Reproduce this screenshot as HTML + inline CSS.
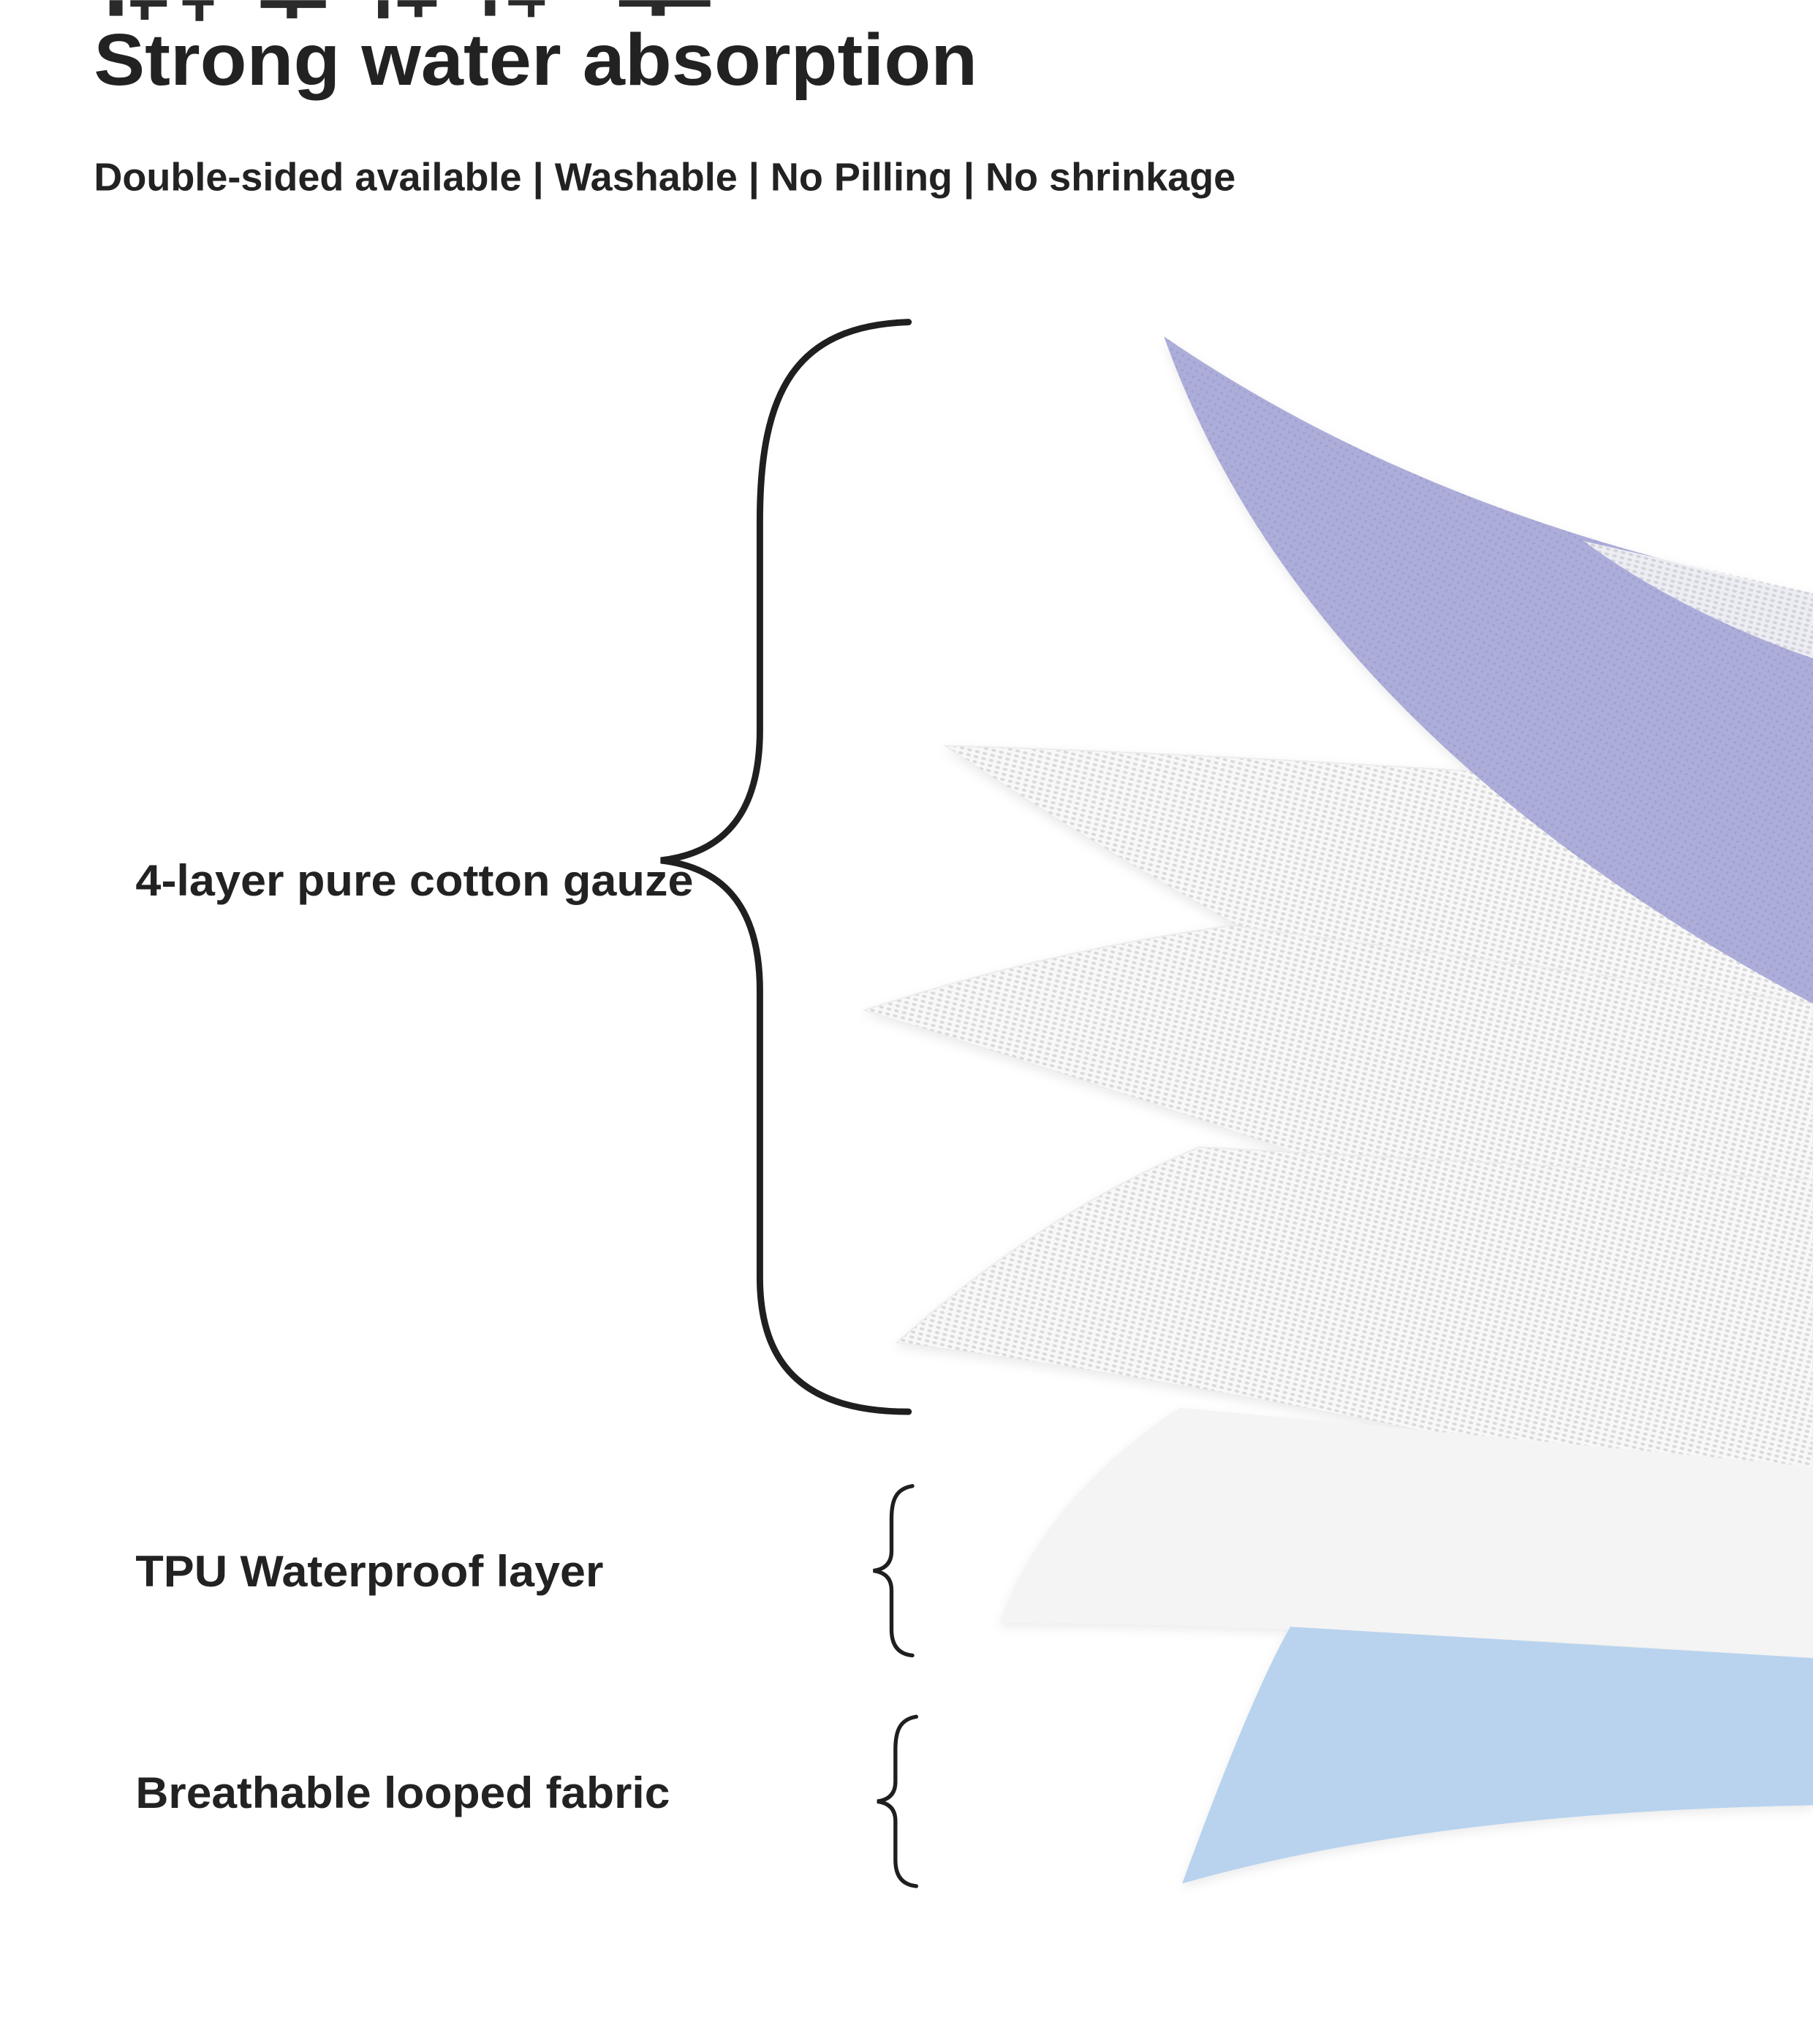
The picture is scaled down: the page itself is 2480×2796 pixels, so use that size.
<!DOCTYPE html>
<html><head><meta charset="utf-8"><style>
html,body{margin:0;padding:0;background:#fff;}
svg{display:block;}
</style></head><body>
<svg width="2480" height="2796" viewBox="0 0 1391 1568" xmlns="http://www.w3.org/2000/svg">
<defs>
<pattern id="mesh" width="6" height="4" patternUnits="userSpaceOnUse" patternTransform="rotate(14)">
<rect width="6" height="4" fill="#f8f8f8"/>
<ellipse cx="3" cy="2" rx="1.9" ry="1.1" fill="#dadada"/>
</pattern>
<pattern id="pmesh" width="5" height="5" patternUnits="userSpaceOnUse" patternTransform="rotate(30)">
<rect width="5" height="5" fill="#adadda"/>
<circle cx="2.5" cy="2.5" r="1" fill="#a0a0d0"/>
</pattern>
<filter id="sh" x="-10%" y="-10%" width="120%" height="130%">
<feDropShadow dx="0" dy="3" stdDeviation="4" flood-color="#000" flood-opacity="0.08"/>
</filter>
</defs>
<rect width="1391" height="1568" fill="#fff"/>
<g fill="#2a2a2a">
<path d="M84,0 h10 v12 h-10z M100,0 h28 v5 h-28z M108,5 h6 v10 h-6z"/>
<path d="M140,0 h24 v4 h-24z M150,4 h6 v12 h-6z M200,0 h50 v6 h-50z M220,6 h8 v8 h-8z"/>
<path d="M290,0 h8 v14 h-8z M305,0 h30 v5 h-30z M318,5 h6 v8 h-6z"/>
<path d="M372,0 h8 v12 h-8z M390,0 h28 v4 h-28z M405,4 h5 v9 h-5z"/>
<path d="M475,0 h70 v5 h-70z M500,5 h10 v7 h-10z"/>
</g>
<text x="72" y="65" font-family="Liberation Sans, sans-serif" font-weight="bold" font-size="56" fill="#222" textLength="678" lengthAdjust="spacingAndGlyphs">Strong water absorption</text>
<text x="72" y="146" font-family="Liberation Sans, sans-serif" font-weight="bold" font-size="30" fill="#222" textLength="876" lengthAdjust="spacingAndGlyphs">Double-sided available | Washable | No Pilling | No shrinkage</text>

<g filter="url(#sh)">
<path d="M725,572 Q1000,580 1391,610 L1391,920 Q1000,760 725,572 Z" fill="url(#mesh)" stroke="#ececec" stroke-width="1"/>
<path d="M893,258 Q1000,560 1391,770 L1391,455 Q1100,400 893,258 Z" fill="url(#pmesh)"/>
<path d="M1215,415 L1391,455 L1391,505 Q1290,470 1215,415 Z" fill="url(#mesh)" opacity="0.85"/>
<path d="M663,775 Q800,730 945,710 L1391,770 L1391,1030 Q1000,880 663,775 Z" fill="url(#mesh)" stroke="#ececec" stroke-width="1"/>
<path d="M688,1030 Q800,930 920,880 L1391,905 L1391,1165 Q1000,1070 688,1030 Z" fill="url(#mesh)" stroke="#ececec" stroke-width="1"/>
<path d="M767,1245 Q800,1150 905,1080 L1391,1125 L1391,1272 Q1000,1245 767,1245 Z" fill="#f4f4f4"/>
<path d="M907,1445 Q960,1300 990,1248 L1391,1272 L1391,1385 Q1100,1390 907,1445 Z" fill="#b9d3ee"/>
</g>

<g fill="none" stroke="#1f1f1f" stroke-width="5" stroke-linecap="round">
<path d="M697,247 C610,250 583,300 583,400 L583,560 C583,630 550,655 507,660 C550,665 583,690 583,760 L583,980 C583,1050 620,1083 697,1083"/>
<path d="M700,1140 C688,1142 684,1150 684,1165 L684,1190 C684,1200 678,1204 670,1205 C678,1206 684,1210 684,1220 L684,1250 C684,1263 690,1269 700,1270" stroke-width="3"/>
<path d="M703,1317 C691,1319 687,1327 687,1342 L687,1367 C687,1377 681,1381 673,1382 C681,1383 687,1387 687,1397 L687,1427 C687,1440 693,1446 703,1447" stroke-width="3"/>
</g>

<g font-family="Liberation Sans, sans-serif" font-weight="bold" font-size="34" fill="#222">
<text x="104" y="687" textLength="428" lengthAdjust="spacingAndGlyphs">4-layer pure cotton gauze</text>
<text x="104" y="1217" textLength="359" lengthAdjust="spacingAndGlyphs">TPU Waterproof layer</text>
<text x="104" y="1387" textLength="410" lengthAdjust="spacingAndGlyphs">Breathable looped fabric</text>
</g>
</svg>
</body></html>
